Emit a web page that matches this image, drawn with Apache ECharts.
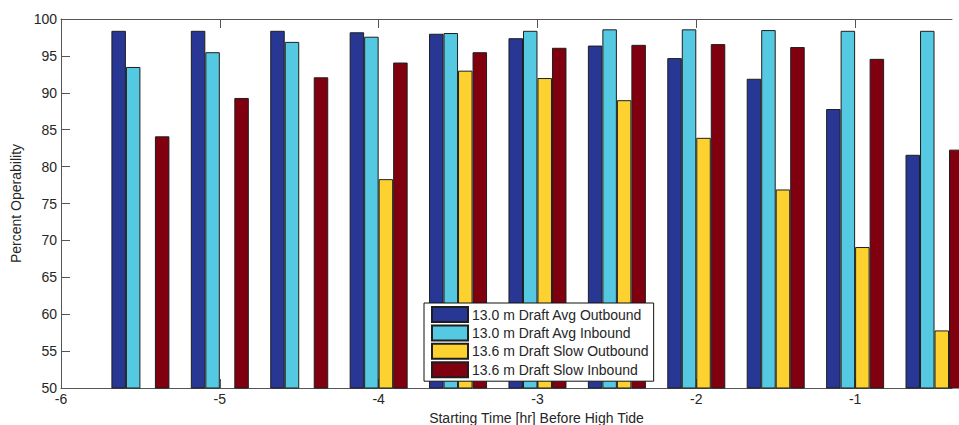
<!DOCTYPE html>
<html>
<head>
<meta charset="utf-8">
<script src="https://cdn.jsdelivr.net/npm/echarts@6/dist/echarts.min.js"></script>
<style>
html,body{margin:0;padding:0;background:#fff;}
#chart{width:959px;height:425px;}
</style>
</head>
<body>
<div id="chart"></div>
<script>
const startTimes = [-5.5, -5, -4.5, -4, -3.5, -3, -2.5, -2, -1.5, -1, -0.5];
const avgOutbound13_0 = [98.4, 98.4, 98.4, 98.2, 98.0, 97.4, 96.4, 94.7, 91.9, 87.8, 81.6];
const avgInbound13_0 = [93.5, 95.5, 96.9, 97.6, 98.1, 98.4, 98.6, 98.6, 98.5, 98.4, 98.4];
const slowOutbound13_6 = [null, null, null, 78.3, 93.0, 92.0, 89.0, 83.9, 76.9, 69.1, 57.8];
const slowInbound13_6 = [84.1, 89.3, 92.1, 94.1, 95.5, 96.1, 96.5, 96.6, 96.2, 94.6, 82.3];
const xTicks = [-6, -5, -4, -3, -2, -1];
const seriesNames = ['13.0 m Draft Avg Outbound', '13.0 m Draft Avg Inbound', '13.6 m Draft Slow Outbound', '13.6 m Draft Slow Inbound'];
const seriesValues = [avgOutbound13_0, avgInbound13_0, slowOutbound13_6, slowInbound13_6];
const colors = ['#283694', '#55C9E2', '#FDD230', '#800010'];

const font = 'Arial, "Liberation Sans", Helvetica, sans-serif';
const fs = 14;
const textColor = '#262626';
const lineColor = '#555';

const chart = echarts.init(document.getElementById('chart'), null, {renderer: 'svg'});

const series = seriesNames.map((name, i) => ({
  name: name,
  type: 'bar',
  xAxisIndex: 0,
  yAxisIndex: 0,
  z: 3,
  clip: true,
  barWidth: 14.5,
  barGap: '0%',
  itemStyle: {color: colors[i], borderColor: '#1e1e1e', borderWidth: 1},
  emphasis: {disabled: true},
  data: startTimes.map((t, j) => [t, seriesValues[i][j]])
}));

chart.setOption({
  animation: false,
  textStyle: {fontFamily: font},
  grid: {left: 61, right: 7, top: 19, bottom: 37, containLabel: false, outerBoundsMode: 'none'},
  legend: {
    orient: 'vertical',
    left: 424,
    top: 303,
    z: 10,
    itemWidth: 36,
    itemHeight: 15,
    itemGap: 1.4,
    padding: [3, 5, 3, 7],
    backgroundColor: '#fff',
    borderColor: '#111',
    borderWidth: 1,
    borderRadius: 0,
    icon: 'rect',
    selectedMode: false,
    textStyle: {fontFamily: font, fontSize: fs, color: textColor, padding: [0, 0, 0, -1]},
    data: seriesNames
  },
  xAxis: [{
    type: 'value',
    position: 'bottom',
    z: 0,
    min: -6,
    max: -0.39,
    interval: 1,
    splitLine: {show: false},
    axisLine: {show: true, lineStyle: {color: lineColor, width: 1}},
    axisTick: {show: true, inside: true, length: 9, lineStyle: {color: lineColor}, customValues: xTicks},
    axisLabel: {fontSize: fs, color: textColor, margin: 4, fontFamily: font, customValues: xTicks},
    name: 'Starting Time [hr] Before High Tide',
    nameLocation: 'middle',
    nameGap: 22,
    nameTextStyle: {fontSize: fs, color: textColor, fontFamily: font, padding: [0, 0, 0, 60]}
  }, {
    type: 'value',
    position: 'top',
    z: 0,
    min: -6,
    max: -0.39,
    interval: 1,
    splitLine: {show: false},
    axisLine: {show: true, lineStyle: {color: lineColor, width: 1}},
    axisTick: {show: true, inside: true, length: 9, lineStyle: {color: lineColor}, customValues: xTicks},
    axisLabel: {show: false}
  }],
  yAxis: {
    type: 'value',
    z: 0,
    min: 50,
    max: 100,
    interval: 5,
    splitLine: {show: false},
    axisLine: {show: true, lineStyle: {color: lineColor, width: 1}},
    axisTick: {show: true, inside: true, length: 9, lineStyle: {color: lineColor}},
    axisLabel: {fontSize: fs, color: textColor, margin: 4, fontFamily: font},
    name: 'Percent Operability',
    nameLocation: 'middle',
    nameRotate: 90,
    nameGap: 34,
    nameTextStyle: {fontSize: fs, color: textColor, fontFamily: font}
  },
  series: series
});
</script>
</body>
</html>
